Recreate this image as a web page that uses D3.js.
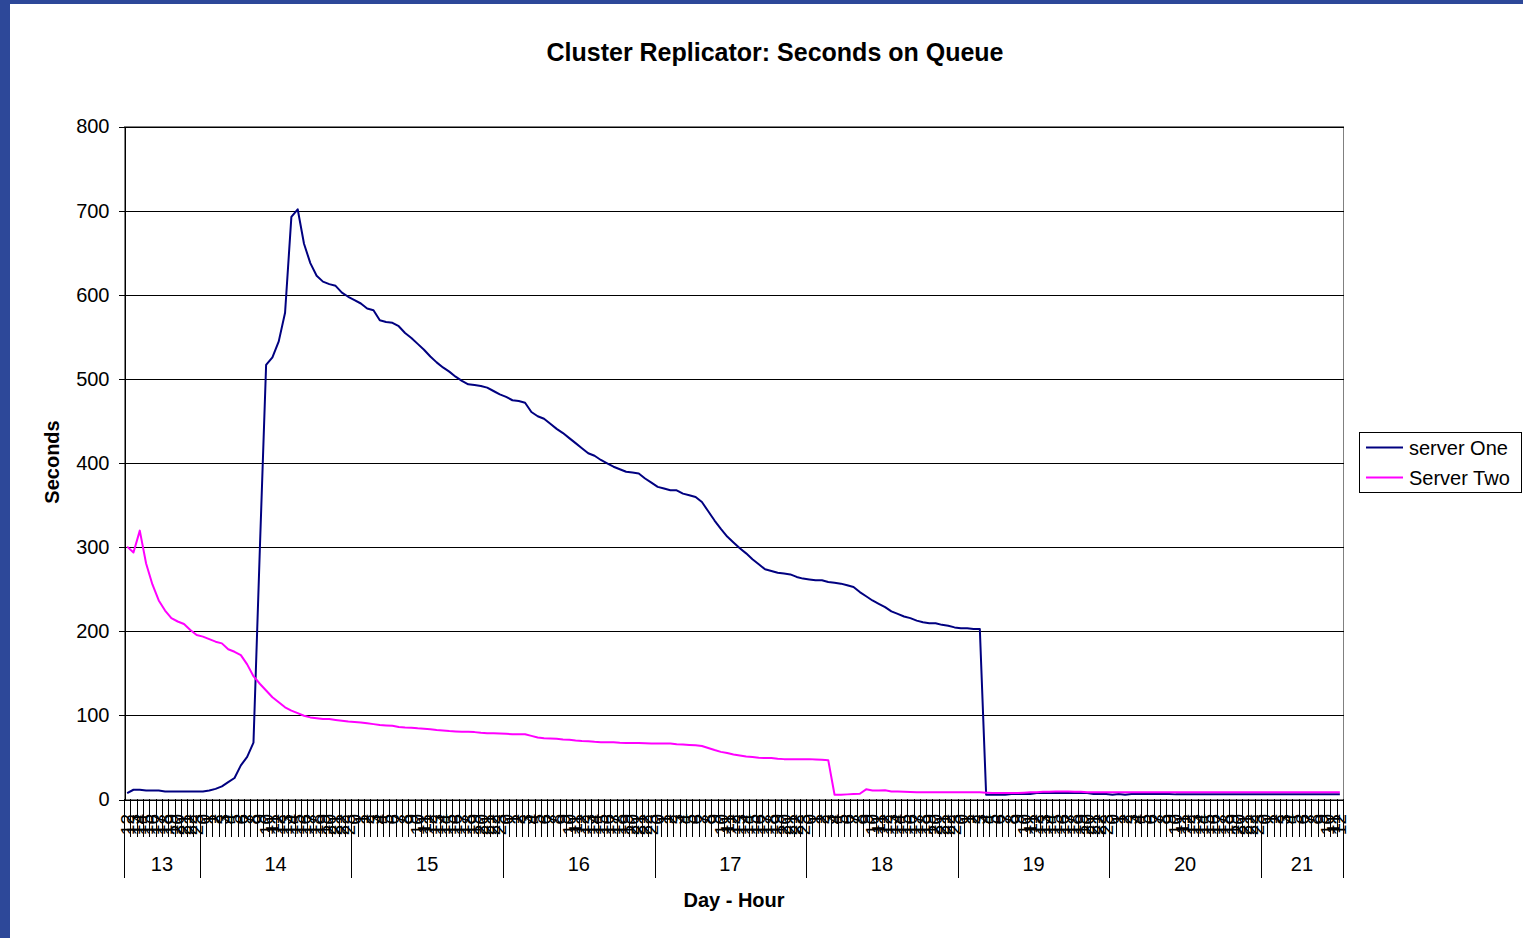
<!DOCTYPE html>
<html>
<head>
<meta charset="utf-8">
<script src="https://cdn.jsdelivr.net/npm/d3@7"></script>
<style>
  html, body { margin: 0; padding: 0; background: #fff; }
  svg { display: block; }
  text { font-family: "Liberation Sans", Arial, sans-serif; fill: #000; }
</style>
</head>
<body>
<svg id="chart" width="1523" height="938"></svg>
<script>
// ---------- data ----------
const chartTitle = "Cluster Replicator: Seconds on Queue";
const yTitle = "Seconds";
const xTitle = "Day - Hour";
const seriesNames = ["server One", "Server Two"];
const seriesColors = ["#000080", "#FF00FF"];

// day, first hour, last hour
const days = [13, 14, 15, 16, 17, 18, 19, 20, 21];
const dayFirstHour = [12, 0, 0, 0, 0, 0, 0, 0, 0];
const dayLastHour  = [23, 23, 23, 23, 23, 23, 23, 23, 12];

const yTicks = [0, 100, 200, 300, 400, 500, 600, 700, 800];

const serverOne = [
  7, 11, 11, 10, 10, 10, 9, 9, 9, 9,
  9, 9, 9, 10, 12, 15, 20, 25, 40, 50,
  67, 295, 516, 525, 544, 578, 692, 701, 660, 637,
  622, 615, 612, 610, 602, 597, 593, 589, 583, 581,
  569, 567, 566, 562, 554, 548, 541, 534, 526, 519,
  513, 508, 502, 497, 493, 492, 491, 489, 485, 481,
  478, 474, 473, 471, 460, 455, 452, 446, 440, 435,
  429, 423, 417, 411, 408, 403, 399, 395, 392, 389,
  388, 387, 381, 376, 371, 369, 367, 367, 363, 361,
  359, 353, 342, 331, 321, 312, 305, 298, 292, 285,
  279, 273, 271, 269, 268, 267, 264, 262, 261, 260,
  260, 258, 257, 256, 254, 252, 246, 241, 236, 232,
  228, 223, 220, 217, 215, 212, 210, 209, 209, 207,
  206, 204, 203, 203, 202, 202, 5, 5, 5, 5,
  6, 6, 6, 6, 7, 7, 7, 7, 7, 7,
  7, 7, 7, 6, 6, 6, 5, 6, 5, 6,
  6, 6, 6, 6, 6, 6, 5.5, 5.5, 5.5, 5.5,
  5.5, 5.5, 5.5, 5.5, 5.5, 5.5, 5.5, 5.5, 5.5, 5.5,
  5.5, 5.5, 5.5, 5.5, 5.5, 5.5, 5.5, 5.5, 5.5, 5.5,
  5.5, 5.5, 5.5
];

const serverTwo = [
  300, 293, 319, 280, 255, 236, 224, 215, 211, 208,
  201, 195, 193, 190, 187, 185, 178, 175, 171, 160,
  146, 137, 129, 121, 115, 109, 105, 102, 99, 97,
  96, 95, 95, 94, 93, 92, 91.5, 91, 90, 89,
  88, 87.5, 87, 85.5, 85, 84.7, 84, 83.5, 83, 82,
  81.5, 80.7, 80.3, 80, 80, 79.5, 78.7, 78.3, 78.3, 78,
  77.5, 77, 77, 77, 75, 73, 72.3, 72, 71.5, 70.7,
  70.3, 69.5, 69, 68.7, 68, 67.5, 67.5, 67.5, 67, 66.7,
  66.7, 66.7, 66.3, 66, 66, 66, 66, 65, 64.7, 64.3,
  64, 63, 60.6, 58.2, 56, 54.6, 53, 51.8, 50.6, 49.8,
  49, 48.6, 48.6, 47.8, 47.4, 47.4, 47.4, 47.4, 47.4, 47,
  46.6, 46.2, 5, 5, 5.5, 6, 6.3, 11.5, 10, 10,
  10.3, 9, 9, 8.7, 8.3, 8, 8, 8, 8, 8,
  8, 8, 8, 8, 8, 8, 7.5, 7, 7, 7,
  7, 7, 7.5, 8, 8, 8.5, 8.5, 9, 9, 9,
  8.5, 8.5, 8, 8, 8, 8, 8, 8, 8, 8,
  8, 8, 8, 8, 8, 8, 8, 8, 8, 8,
  8, 8, 8, 8, 8, 8, 8, 8, 8, 8,
  8, 8, 8, 8, 8, 8, 8, 8, 8, 8,
  8, 8, 8
];

// ---------- build categories ----------
const categories = [];
days.forEach((d, di) => {
  for (let h = dayFirstHour[di]; h <= dayLastHour[di]; h++) {
    categories.push({ key: d + "-" + h, day: d, hour: h });
  }
});

// ---------- layout ----------
const W = 1523, H = 938;
const plot = { left: 124, right: 1343, top: 126, bottom: 799 };
const font = '"Liberation Sans", Arial, sans-serif';

const svg = d3.select("#chart");
svg.append("rect").attr("width", W).attr("height", H).attr("fill", "#fff");
svg.append("rect").attr("x", 0).attr("y", 0).attr("width", W).attr("height", 4).attr("fill", "#2D4899");
svg.append("rect").attr("x", 0).attr("y", 0).attr("width", 10).attr("height", H).attr("fill", "#2D4899");

const x = d3.scaleBand()
  .domain(categories.map(c => c.key))
  .range([plot.left, plot.right])
  .paddingInner(0).paddingOuter(0);
const bw = x.bandwidth();
const xc = k => x(k) + bw / 2;

const y = d3.scaleLinear().domain([0, 800]).range([plot.bottom, plot.top]);

// plot area frame
svg.append("rect")
  .attr("x", plot.left + 0.5).attr("y", plot.top + 0.5)
  .attr("width", plot.right - plot.left).attr("height", plot.bottom - plot.top)
  .attr("fill", "none").attr("stroke", "#808080").attr("stroke-width", 1);

// gridlines
const grid = svg.append("g")
  .attr("transform", `translate(${plot.left + 0.5},0.5)`)
  .call(d3.axisLeft(y).tickValues(yTicks.filter(v => v > 0)).tickSize(-(plot.right - plot.left)).tickFormat(""));
grid.select(".domain").remove();
grid.selectAll(".tick line").attr("stroke", "#000").attr("shape-rendering", "crispEdges");

// y axis
const yAxis = svg.append("g")
  .attr("transform", `translate(${plot.left + 0.5},0.5)`)
  .call(d3.axisLeft(y).tickValues(yTicks).tickSize(6).tickSizeOuter(0).tickPadding(9));
yAxis.select(".domain").attr("stroke", "#000").attr("shape-rendering", "crispEdges");
yAxis.selectAll(".tick line").attr("stroke", "#000").attr("shape-rendering", "crispEdges");
yAxis.selectAll(".tick text").attr("font-size", 20).attr("font-family", font).attr("fill", "#000");

// x axis line
const xAxis = svg.append("g")
  .attr("transform", `translate(0,${plot.bottom + 0.5})`)
  .call(d3.axisBottom(x).tickSize(0).tickFormat(""));
xAxis.select(".domain").attr("stroke", "#000").attr("shape-rendering", "crispEdges");

// hour tick marks (between categories)
const tickXs = categories.map(c => x(c.key)).concat([plot.right]);
svg.append("g").selectAll("line").data(tickXs).join("line")
  .attr("x1", d => Math.round(d) + 0.5).attr("x2", d => Math.round(d) + 0.5)
  .attr("y1", plot.bottom).attr("y2", 837)
  .attr("stroke", "#000").attr("stroke-width", 1).attr("shape-rendering", "crispEdges");

// hour labels (rotated)
svg.append("g").selectAll("text").data(categories).join("text")
  .attr("transform", d => `translate(${xc(d.key)},814) rotate(-90)`)
  .attr("text-anchor", "end")
  .attr("dy", "0.35em")
  .attr("font-size", 19)
  .text(d => String(d.hour));

// day separators and labels
const dayStarts = days.map(d => x(categories.find(c => c.day === d).key)).concat([plot.right]);
svg.append("g").selectAll("line").data(dayStarts).join("line")
  .attr("x1", d => Math.round(d) + 0.5).attr("x2", d => Math.round(d) + 0.5)
  .attr("y1", plot.bottom).attr("y2", 878)
  .attr("stroke", "#000").attr("stroke-width", 1).attr("shape-rendering", "crispEdges");
svg.append("g").selectAll("text").data(days).join("text")
  .attr("x", (d, i) => (dayStarts[i] + dayStarts[i + 1]) / 2)
  .attr("y", 871)
  .attr("text-anchor", "middle")
  .attr("font-size", 20)
  .text(d => d);

// lines
const line = d3.line().x((d, i) => xc(categories[i].key)).y(d => y(d));
[serverOne, serverTwo].forEach((s, si) => {
  svg.append("path")
    .datum(s)
    .attr("d", line)
    .attr("fill", "none")
    .attr("stroke", seriesColors[si])
    .attr("stroke-width", 2)
    .attr("stroke-linejoin", "round");
});

// titles
svg.append("text").attr("x", 775).attr("y", 61).attr("text-anchor", "middle")
  .attr("font-size", 25).attr("font-weight", "bold").text(chartTitle);
svg.append("text").attr("x", 734).attr("y", 907).attr("text-anchor", "middle")
  .attr("font-size", 20).attr("font-weight", "bold").text(xTitle);
svg.append("text").attr("transform", "translate(59,462) rotate(-90)").attr("text-anchor", "middle")
  .attr("font-size", 20).attr("font-weight", "bold").text(yTitle);

// legend
const lg = svg.append("g");
lg.append("rect").attr("x", 1359.5).attr("y", 432.5).attr("width", 162).attr("height", 60)
  .attr("fill", "#fff").attr("stroke", "#000").attr("stroke-width", 1);
seriesNames.forEach((n, i) => {
  const ly = 447.5 + i * 30;
  lg.append("line").attr("x1", 1366).attr("x2", 1403).attr("y1", ly).attr("y2", ly)
    .attr("stroke", seriesColors[i]).attr("stroke-width", 2);
  lg.append("text").attr("x", 1409).attr("y", 455 + i * 29.5).attr("font-size", 20).text(n);
});
</script>
</body>
</html>
